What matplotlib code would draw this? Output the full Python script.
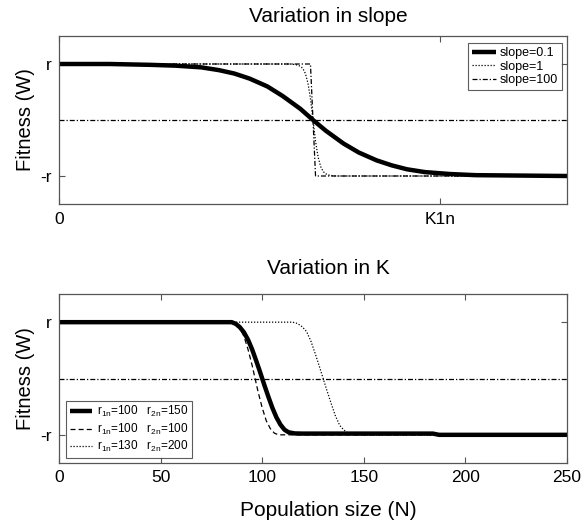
import matplotlib
matplotlib.use("Agg")
import matplotlib.pyplot as plt

plt.rcParams['font.family'] = ['Liberation Sans', 'DejaVu Sans']
plt.rcParams['mathtext.fontset'] = 'custom'
plt.rcParams['mathtext.rm'] = 'Liberation Sans'
plt.rcParams['mathtext.it'] = 'Liberation Sans'

# ---------------- Top panel: variation in slope ----------------
slope_labels = ['slope=0.1', 'slope=1', 'slope=100']
n_slope01 = [0, 20, 36, 46, 56, 63, 69, 75, 82, 88, 95, 100, 105, 112, 118, 125, 131, 137, 144, 154, 164, 200]
w_slope01 = [1.0, 1.0, 0.985, 0.97, 0.94, 0.89, 0.83, 0.74, 0.6, 0.43, 0.2, 0.0, -0.19, -0.42, -0.58, -0.72, -0.81, -0.88, -0.93, -0.965, -0.985, -1.0]
n_slope1 = [0, 91, 93, 94, 95, 96, 97, 98, 99, 100, 101, 102, 103, 104, 105, 106, 107, 109, 200]
w_slope1 = [1.0, 1.0, 0.99, 0.98, 0.96, 0.92, 0.83, 0.66, 0.38, 0.0, -0.38, -0.66, -0.83, -0.92, -0.96, -0.98, -0.99, -1.0, -1.0]
n_slope100 = [0, 99, 100, 101, 200]
w_slope100 = [1.0, 1.0, 0.0, -1.0, -1.0]
top_xticks = [0, 150]
top_xticklabels = ['0', 'K1n']

# ---------------- Bottom panel: variation in K ----------------
k_labels = [r'$\mathrm{r_{1n}}$=100   $\mathrm{r_{2n}}$=150',
            r'$\mathrm{r_{1n}}$=100   $\mathrm{r_{2n}}$=100',
            r'$\mathrm{r_{1n}}$=130   $\mathrm{r_{2n}}$=200']
n_k100_150 = [0, 85, 87, 89, 91, 93, 95, 97, 99, 100, 101, 103, 105, 107, 109, 111, 113, 116, 120, 184, 187, 250]
w_k100_150 = [1.0, 1.0, 0.97, 0.91, 0.82, 0.69, 0.52, 0.32, 0.11, 0.0, -0.11, -0.32, -0.52, -0.69, -0.82, -0.91, -0.955, -0.975, -0.978, -0.978, -1.0, -1.0]
n_k100_100 = [0, 85, 87, 89, 91, 93, 95, 96.5, 98, 100, 102, 104, 106, 108, 250]
w_k100_100 = [1.0, 1.0, 0.97, 0.89, 0.75, 0.52, 0.24, 0.0, -0.24, -0.52, -0.75, -0.89, -0.97, -1.0, -1.0]
n_k130_200 = [0, 115, 117, 119, 121, 122, 124, 126, 128, 130, 132, 134, 136, 138, 139, 141, 143, 145, 250]
w_k130_200 = [1.0, 1.0, 0.98, 0.94, 0.87, 0.82, 0.66, 0.45, 0.23, 0.0, -0.23, -0.45, -0.66, -0.82, -0.87, -0.94, -0.98, -1.0, -1.0]
bottom_xticks = [0, 50, 100, 150, 200, 250]

yticks = [-1, 1]
yticklabels = ['-r', 'r']

W, H = 588, 524
fig = plt.figure(figsize=(W / 100, H / 100), dpi=100)

def frac(l, t, r, b):
    return [l / W, 1 - b / H, (r - l) / W, (b - t) / H]

ax1 = fig.add_axes(frac(59, 36, 567, 204))
ax2 = fig.add_axes(frac(59, 294, 567, 463))

dashdot = (0, (4, 1.6, 1, 1.6))
dotted = (0, (1, 1.4))
dashed = (0, (4, 2.5))
spine_col = '#555555'

for ax in (ax1, ax2):
    for s in ax.spines.values():
        s.set_color(spine_col)
        s.set_linewidth(0.9)
    ax.tick_params(direction='in', length=4, width=0.8, color=spine_col,
                   top=True, right=True, labelsize=12.5, pad=5)
    ax.set_ylim(-1.5, 1.5)
    ax.set_yticks(yticks)
    ax.set_yticklabels(yticklabels)
    ax.set_ylabel('Fitness (W)', fontsize=14.5, labelpad=4)
ax1.tick_params(axis='x', pad=6)

# top panel
ax1.set_xlim(0, 200)
ax1.axhline(0, color='black', lw=0.9, linestyle=dashdot)
l3, = ax1.plot(n_slope100, w_slope100, color='black', lw=0.9, linestyle=dashdot, label=slope_labels[2])
l2, = ax1.plot(n_slope1, w_slope1, color='black', lw=0.9, linestyle=dotted, label=slope_labels[1])
l1, = ax1.plot(n_slope01, w_slope01, color='black', lw=3.2, solid_capstyle='butt', label=slope_labels[0])
ax1.set_xticks(top_xticks)
ax1.set_xticklabels(top_xticklabels)
leg1 = ax1.legend(handles=[l1, l2, l3], loc='upper right', bbox_to_anchor=(0.99, 0.958),
                  borderaxespad=0, fontsize=9, frameon=True, fancybox=False,
                  edgecolor='#333333', handlelength=1.9, handletextpad=0.25,
                  labelspacing=0.1, borderpad=0.35)
leg1.get_frame().set_linewidth(0.8)

# bottom panel
ax2.set_xlim(0, 250)
ax2.axhline(0, color='black', lw=0.9, linestyle=dashdot)
m3, = ax2.plot(n_k130_200, w_k130_200, color='black', lw=0.9, linestyle=dotted, label=k_labels[2])
m2, = ax2.plot(n_k100_100, w_k100_100, color='black', lw=0.9, linestyle=dashed, label=k_labels[1])
m1, = ax2.plot(n_k100_150, w_k100_150, color='black', lw=3.2, solid_capstyle='butt', label=k_labels[0])
ax2.set_xticks(bottom_xticks)
leg2 = ax2.legend(handles=[m1, m2, m3], loc='lower left', bbox_to_anchor=(0.014, 0.03),
                  borderaxespad=0, fontsize=8.5, frameon=True, fancybox=False,
                  edgecolor='#333333', handlelength=1.9, handletextpad=0.4,
                  labelspacing=0.2, borderpad=0.3)
leg2.get_frame().set_linewidth(0.8)

fig.text(328 / W, 1 - 16 / H, 'Variation in slope', ha='center', va='center', fontsize=15)
fig.text(328 / W, 1 - 268 / H, 'Variation in K', ha='center', va='center', fontsize=15)
fig.text(328 / W, 1 - 510 / H, 'Population size (N)', ha='center', va='center', fontsize=15)

fig.savefig('out.png', dpi=100)
